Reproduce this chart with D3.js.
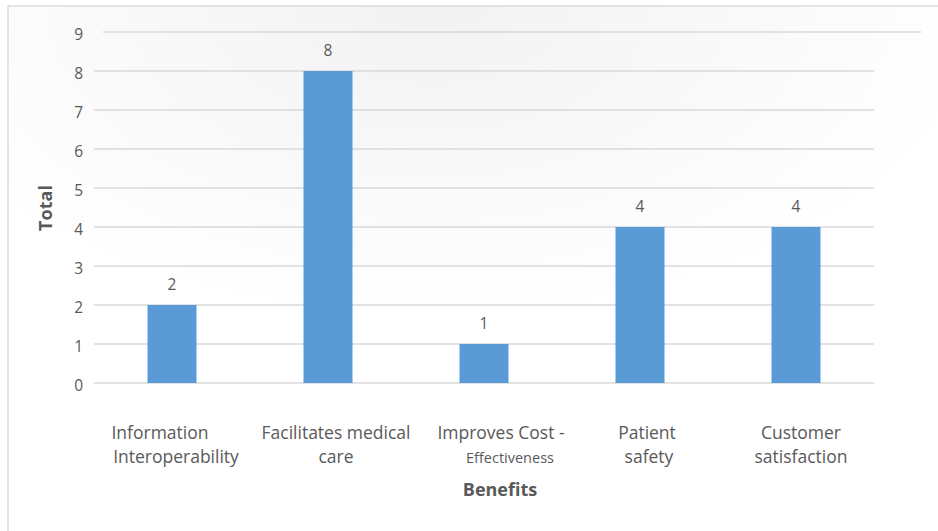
<!DOCTYPE html>
<html>
<head>
<meta charset="utf-8">
<script src="https://cdn.jsdelivr.net/npm/d3@7"></script>
<style>
  body { margin: 0; background: #fff; }
  text { font-family: "Open Sans", "DejaVu Sans", sans-serif; fill: #595959; }
</style>
</head>
<body>
<div id="chart"></div>
<script>
// data
var categories = ["Information Interoperability", "Facilitates medical care", "Improves Cost - Effectiveness", "Patient safety", "Customer satisfaction"];
var totals = [2, 8, 1, 4, 4];
var labelLines = [
  ["Information", "Interoperability"],
  ["Facilitates medical", "care"],
  ["Improves Cost -", "Effectiveness"],
  ["Patient", "safety"],
  ["Customer", "satisfaction"]
];
var yTicks = [0, 1, 2, 3, 4, 5, 6, 7, 8, 9];
// how far each wrapped label line sits right of its bar centre
var labelShift = [[-12, 4], [8, 8], [17, 26], [7, 9], [5, 5]];

var width = 938, height = 531;
var margin = {top: 32, right: 64, bottom: 148, left: 94};

var svg = d3.select("#chart").append("svg")
    .attr("width", width)
    .attr("height", height);

// faint frame + top shading like the source screenshot
var defs = svg.append("defs");
var grad = defs.append("radialGradient")
    .attr("id", "shade")
    .attr("cx", "0.45").attr("cy", "0").attr("r", "0.6");
grad.append("stop").attr("offset", "0").attr("stop-color", "#f2f2f2");
grad.append("stop").attr("offset", "1").attr("stop-color", "#ffffff");

svg.append("rect")
    .attr("x", 8).attr("y", 6)
    .attr("width", width).attr("height", height)
    .attr("fill", "url(#shade)")
    .attr("stroke", "#dcdcdc")
    .attr("stroke-width", 1.5);

var x = d3.scaleBand()
    .domain(categories)
    .range([margin.left, width - margin.right])
    .paddingInner(0.686)
    .paddingOuter(0.343);

var y = d3.scaleLinear()
    .domain([0, 9])
    .range([height - margin.bottom, margin.top]);

// gridlines (top one runs a bit further, as in the picture)
svg.append("g")
    .selectAll("line")
    .data(yTicks)
    .enter().append("line")
    .attr("x1", function(d) { return d === 9 ? 103 : margin.left; })
    .attr("x2", function(d) { return d === 9 ? 921 : x.range()[1]; })
    .attr("y1", function(d) { return y(d); })
    .attr("y2", function(d) { return y(d); })
    .attr("stroke", "#d9d9d9")
    .attr("stroke-width", 1.3);

// y axis labels
var yAxis = d3.axisLeft(y).tickValues(yTicks).tickSize(0).tickPadding(11);
var yg = svg.append("g")
    .attr("transform", "translate(" + margin.left + ",0)")
    .call(yAxis);
yg.select(".domain").remove();
yg.selectAll("text")
    .attr("dy", "0.5em")
    .style("font-size", "15.5px");

// bars
svg.selectAll(".bar")
    .data(totals)
    .enter().append("rect")
    .attr("class", "bar")
    .attr("x", function(d, i) { return x(categories[i]); })
    .attr("y", function(d) { return y(d); })
    .attr("width", x.bandwidth())
    .attr("height", function(d) { return y(0) - y(d); })
    .attr("fill", "#5b9bd5");

// value labels
svg.selectAll(".val")
    .data(totals)
    .enter().append("text")
    .attr("class", "val")
    .attr("x", function(d, i) { return x(categories[i]) + x.bandwidth() / 2; })
    .attr("y", function(d) { return y(d) - 15; })
    .attr("text-anchor", "middle")
    .style("font-size", "15.5px")
    .text(function(d) { return d; });

// category labels, two lines each
var cat = svg.selectAll(".cat")
    .data(labelLines)
    .enter().append("text")
    .attr("class", "cat")
    .attr("text-anchor", "middle");
cat.each(function(lines, i) {
  var cx = x(categories[i]) + x.bandwidth() / 2;
  d3.select(this).selectAll("tspan")
      .data(lines)
      .enter().append("tspan")
      .attr("x", function(d, j) { return cx + labelShift[i][j]; })
      .attr("y", function(d, j) { return 439 + j * 24; })
      .style("font-size", function(d, j) { return (i === 2 && j === 1) ? "14.5px" : "17.5px"; })
      .text(function(d) { return d; });
});

// axis titles
svg.append("text")
    .attr("x", 500)
    .attr("y", 496)
    .attr("text-anchor", "middle")
    .style("font-size", "18px")
    .style("font-weight", "bold")
    .text("Benefits");

svg.append("text")
    .attr("transform", "translate(52,208) rotate(-90)")
    .attr("text-anchor", "middle")
    .style("font-size", "18px")
    .style("font-weight", "bold")
    .text("Total");
</script>
</body>
</html>
